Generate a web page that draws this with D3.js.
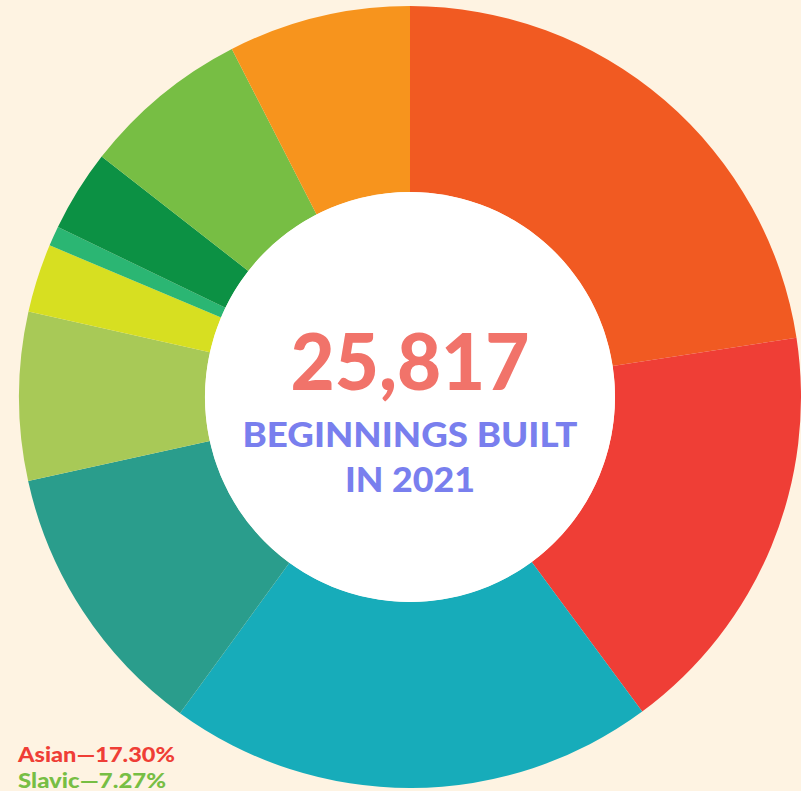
<!DOCTYPE html>
<html>
<head>
<meta charset="utf-8">
<script src="https://cdn.jsdelivr.net/npm/d3@7"></script>
<style>
  html, body { margin: 0; padding: 0; background: #fef3e2; overflow: hidden; }
  svg { display: block; font-family: Lato, "Open Sans", sans-serif; }
</style>
</head>
<body>
<div id="chart"></div>
<script>
// slice shares (percent), clockwise from 12 o'clock
var groups = ["A", "Asian", "C", "D", "E", "F", "G", "H", "Slavic", "J"];
var shares = [22.58, 17.30, 20.13, 11.54, 6.96, 2.83, 0.82, 3.38, 6.93, 7.53];
var colors = ["#f15a22", "#ef3e36", "#17acba", "#2a9d8c", "#a8c957",
              "#d7df21", "#2bb673", "#0c9144", "#77be44", "#f7941d"];

var legendLabels = ["Asian\u201417.30%", "Slavic\u20147.27%"];
var legendColors = ["#ef3e36", "#77be44"];
var legendWidths = [157, 148];

var totalText = "25,817";
var captionLines = ["BEGINNINGS BUILT", "IN 2021"];
var captionWidths = [335, 130];

var svgWidth = 801;
var svgHeight = 791;
var cx = 410, cy = 397;
var outerR = 391, innerR = 205;

var svg = d3.select("#chart")
  .append("svg")
  .attr("width", svgWidth)
  .attr("height", svgHeight);

svg.append("rect")
  .attr("width", svgWidth)
  .attr("height", svgHeight)
  .attr("fill", "#fef3e2");

var pie = d3.pie().sort(null).value(d => d);
var arc = d3.arc().innerRadius(innerR).outerRadius(outerR);

var chartGroup = svg.append("g")
  .attr("transform", `translate(${cx}, ${cy})`);

chartGroup.selectAll("path")
  .data(pie(shares))
  .enter()
  .append("path")
  .attr("d", arc)
  .attr("fill", (d, i) => colors[i]);

// white hole
chartGroup.append("circle")
  .attr("r", innerR)
  .attr("fill", "#ffffff");

// center text
chartGroup.append("text")
  .attr("x", 0)
  .attr("y", -7)
  .attr("text-anchor", "middle")
  .attr("fill", "#f1736a")
  .attr("font-weight", 900)
  .attr("font-size", 79)
  .attr("textLength", 239)
  .attr("lengthAdjust", "spacingAndGlyphs")
  .text(totalText);

chartGroup.selectAll(".caption")
  .data(captionLines)
  .enter()
  .append("text")
  .attr("class", "caption")
  .attr("x", 0)
  .attr("y", (d, i) => 50 + i * 45)
  .attr("text-anchor", "middle")
  .attr("fill", "#797fee")
  .attr("font-weight", 900)
  .attr("font-size", 35)
  .attr("textLength", (d, i) => captionWidths[i])
  .attr("lengthAdjust", "spacingAndGlyphs")
  .text(d => d);

// legend (runs off the bottom)
svg.selectAll(".legend")
  .data(legendLabels)
  .enter()
  .append("text")
  .attr("class", "legend")
  .attr("x", 18)
  .attr("y", (d, i) => 762 + i * 26)
  .attr("fill", (d, i) => legendColors[i])
  .attr("font-weight", 900)
  .attr("font-size", 21)
  .attr("textLength", (d, i) => legendWidths[i])
  .attr("lengthAdjust", "spacingAndGlyphs")
  .text(d => d);
</script>
</body>
</html>
